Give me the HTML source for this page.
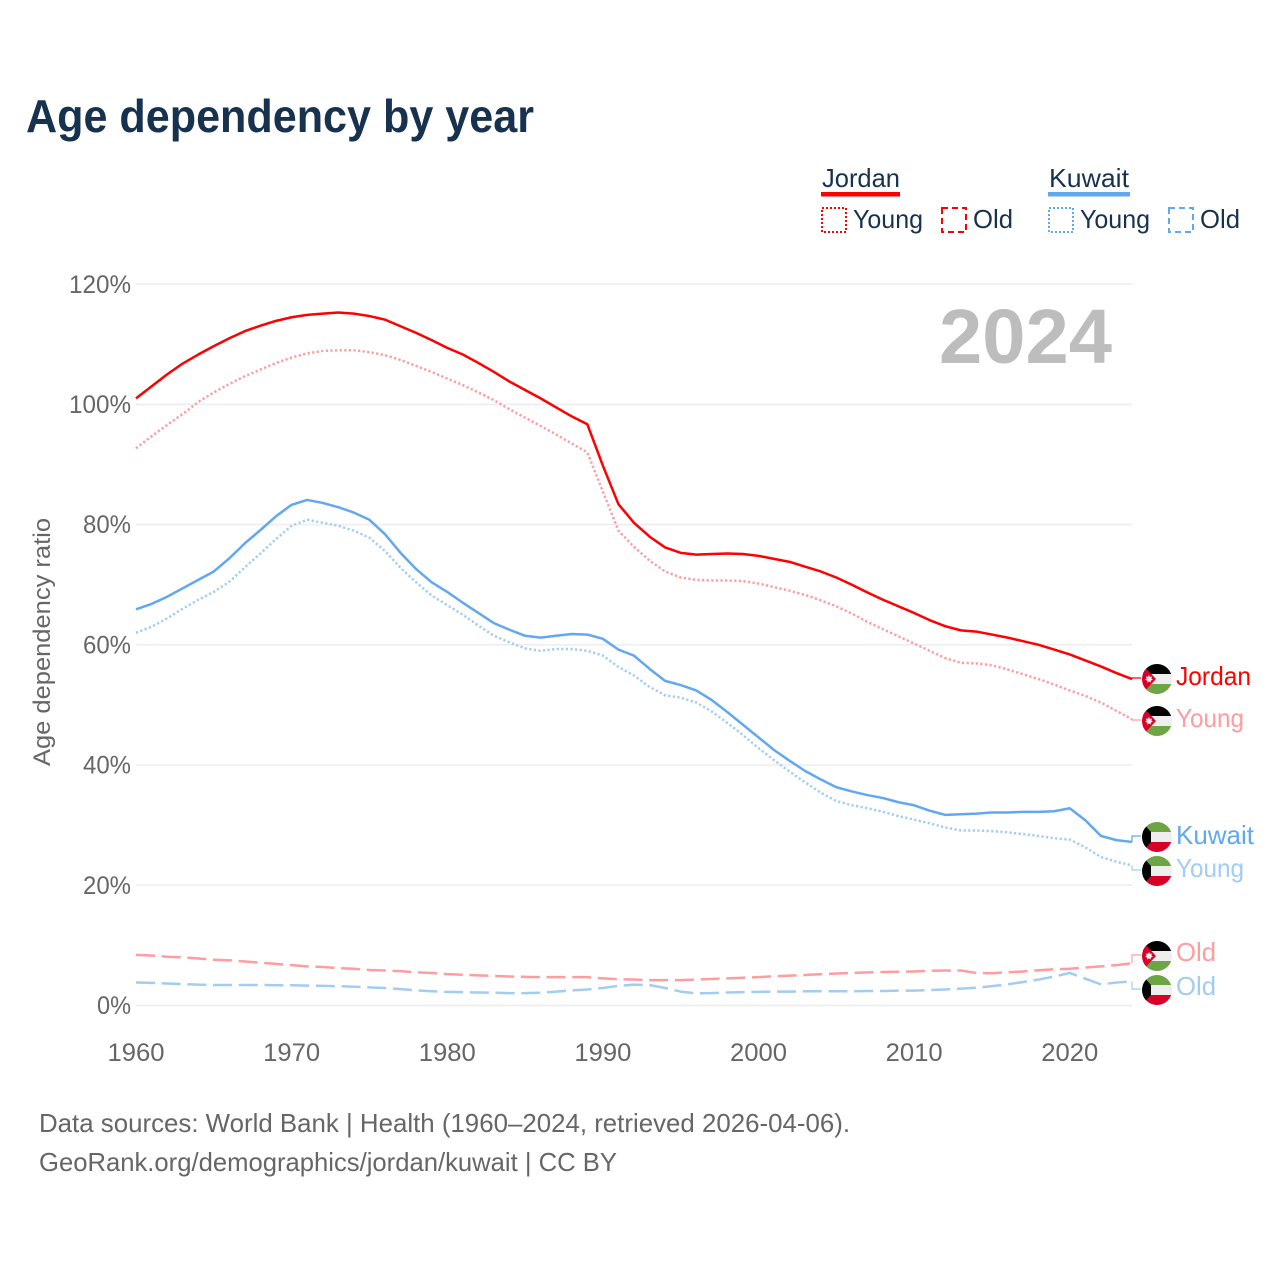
<!DOCTYPE html>
<html lang="en"><head><meta charset="utf-8"><title>Age dependency by year</title>
<style>
html,body{margin:0;padding:0;background:#fff;width:1280px;height:1280px;overflow:hidden}
svg{display:block;font-family:"Liberation Sans",sans-serif}
</style></head>
<body>
<svg id="chart" width="1280" height="1280" viewBox="0 0 1280 1280" xmlns="http://www.w3.org/2000/svg">
<defs>
<clipPath id="flag-clip"><circle cx="0" cy="0" r="15"/></clipPath>
</defs>
<text x="26" y="132" font-size="46" font-weight="700" fill="#17324f" textLength="508" lengthAdjust="spacingAndGlyphs">Age dependency by year</text>

<g font-size="26" fill="#17324f">
<text x="822" y="187" textLength="78" lengthAdjust="spacingAndGlyphs">Jordan</text>
<rect x="821" y="192" width="79" height="4.5" fill="#ff0000"/>
<rect x="822" y="208" width="24" height="24" fill="none" stroke="#ff0000" stroke-width="2" stroke-dasharray="2 2"/>
<text x="853" y="228" textLength="70" lengthAdjust="spacingAndGlyphs">Young</text>
<rect x="942" y="208" width="24" height="24" fill="none" stroke="#ff0000" stroke-width="2" stroke-dasharray="6 4"/>
<text x="973" y="228" textLength="40" lengthAdjust="spacingAndGlyphs">Old</text>
<text x="1049" y="187" textLength="80" lengthAdjust="spacingAndGlyphs">Kuwait</text>
<rect x="1048" y="192" width="82" height="4.5" fill="#62a8f0"/>
<rect x="1049" y="208" width="24" height="24" fill="none" stroke="#62a8f0" stroke-width="2" stroke-dasharray="2 2"/>
<text x="1080" y="228" textLength="70" lengthAdjust="spacingAndGlyphs">Young</text>
<rect x="1169" y="208" width="24" height="24" fill="none" stroke="#62a8f0" stroke-width="2" stroke-dasharray="6 4"/>
<text x="1200" y="228" textLength="40" lengthAdjust="spacingAndGlyphs">Old</text>
</g>

<text transform="translate(50,642) rotate(-90)" text-anchor="middle" font-size="24" fill="#666" textLength="248" lengthAdjust="spacingAndGlyphs">Age dependency ratio</text>
<g id="grid"></g>
<g id="yticks"></g>
<g id="xticks"></g>
<text x="939" y="363" font-size="77" font-weight="700" fill="#bdbdbd" textLength="173" lengthAdjust="spacingAndGlyphs">2024</text>
<g id="series"></g>
<g id="labels"></g>

<text x="39" y="1132" font-size="26" fill="#666" textLength="811" lengthAdjust="spacingAndGlyphs">Data sources: World Bank | Health (1960–2024, retrieved 2026-04-06).</text>
<text x="39" y="1171" font-size="26" fill="#666" textLength="578" lengthAdjust="spacingAndGlyphs">GeoRank.org/demographics/jordan/kuwait | CC BY</text>
</svg>
<script>
const firstYear = 1960;
const lastYear = 2024;
const xTickYears = [1960, 1970, 1980, 1990, 2000, 2010, 2020];
const yTickValues = [0, 20, 40, 60, 80, 100, 120];
const jordanTotal = [
101.0,103.0,105.0,106.8,108.3,109.7,111.0,112.2,113.1,113.9,
114.5,114.9,115.1,115.3,115.1,114.7,114.1,113.0,111.9,110.7,
109.4,108.3,106.9,105.4,103.8,102.4,101.0,99.5,98.0,96.7,
89.8,83.4,80.3,78.0,76.2,75.3,75.0,75.1,75.2,75.1,
74.8,74.3,73.8,73.0,72.2,71.2,70.0,68.7,67.5,66.4,
65.3,64.1,63.1,62.4,62.2,61.7,61.2,60.6,60.0,59.2,
58.4,57.4,56.4,55.3,54.3];
const jordanYoung = [
92.7,94.7,96.6,98.4,100.4,102.0,103.4,104.7,105.8,106.9,
107.8,108.5,108.9,109.0,109.0,108.7,108.2,107.4,106.4,105.4,
104.3,103.2,102.0,100.7,99.2,97.8,96.4,95.0,93.5,92.0,
85.5,79.0,76.3,74.0,72.2,71.2,70.8,70.7,70.7,70.6,
70.2,69.6,69.0,68.3,67.4,66.4,65.2,63.8,62.6,61.4,
60.2,59.0,57.8,57.0,56.9,56.6,55.9,55.1,54.3,53.4,
52.4,51.5,50.4,49.0,47.6];
const jordanOld = [
8.4,8.3,8.1,8.0,7.8,7.6,7.5,7.3,7.1,6.9,
6.7,6.5,6.4,6.2,6.1,5.9,5.8,5.7,5.5,5.4,
5.2,5.1,5.0,4.9,4.8,4.75,4.7,4.7,4.7,4.7,
4.5,4.35,4.3,4.2,4.2,4.2,4.3,4.4,4.5,4.6,
4.7,4.85,4.95,5.05,5.2,5.3,5.4,5.5,5.55,5.6,
5.65,5.75,5.8,5.8,5.4,5.35,5.5,5.65,5.85,6.0,
6.1,6.3,6.5,6.7,7.0];
const kuwaitTotal = [
65.9,66.8,68.0,69.4,70.8,72.2,74.4,76.9,79.1,81.4,
83.3,84.1,83.6,82.9,82.0,80.8,78.4,75.3,72.6,70.4,
68.8,67.0,65.3,63.6,62.5,61.5,61.2,61.5,61.8,61.7,
61.0,59.2,58.2,56.0,54.0,53.3,52.4,50.8,48.8,46.7,
44.6,42.5,40.7,39.0,37.6,36.3,35.6,35.0,34.5,33.8,
33.3,32.4,31.7,31.8,31.9,32.1,32.1,32.2,32.2,32.3,
32.8,30.8,28.2,27.5,27.2];
const kuwaitYoung = [
62.0,63.0,64.4,66.0,67.5,68.8,70.5,72.9,75.2,77.6,
79.8,80.8,80.3,79.8,79.0,77.8,75.6,72.8,70.4,68.2,
66.6,65.0,63.2,61.5,60.4,59.4,59.0,59.3,59.3,59.0,
58.2,56.3,54.9,53.0,51.6,51.2,50.4,48.9,47.0,45.0,
42.8,40.8,38.9,37.1,35.4,34.0,33.3,32.8,32.2,31.5,
30.9,30.3,29.6,29.1,29.1,29.0,28.8,28.5,28.2,27.8,
27.6,26.3,24.7,23.9,23.3];
const kuwaitOld = [
3.8,3.75,3.65,3.55,3.45,3.4,3.4,3.4,3.4,3.35,
3.35,3.3,3.25,3.2,3.1,3.0,2.9,2.7,2.5,2.35,
2.25,2.2,2.15,2.1,2.05,2.05,2.1,2.3,2.5,2.65,
2.9,3.25,3.45,3.4,2.9,2.3,2.0,2.05,2.15,2.2,
2.25,2.3,2.3,2.35,2.35,2.35,2.35,2.4,2.4,2.45,
2.45,2.55,2.65,2.8,2.95,3.2,3.5,3.9,4.3,4.8,
5.4,4.45,3.5,3.8,4.0];
const seriesLabels = ["Jordan", "Young", "Old", "Kuwait", "Young", "Old"];

const NS = "http://www.w3.org/2000/svg";
const plotLeft = 136, plotRight = 1132, y0Pixel = 1005.4, pixelsPerPercent = 6.01;
function xScale(year) { return plotLeft + (year - firstYear) * (plotRight - plotLeft) / (lastYear - firstYear); }
function yScale(v) { return y0Pixel - v * pixelsPerPercent; }
function make(tag, parent, attrs) {
  const el = document.createElementNS(NS, tag);
  for (const k in attrs) el.setAttribute(k, attrs[k]);
  parent.appendChild(el);
  return el;
}
const grid = document.getElementById("grid");
const yticks = document.getElementById("yticks");
const xticks = document.getElementById("xticks");
yTickValues.forEach(function (v) {
  const line = make("line", grid, {x1: plotLeft, x2: plotRight, y1: yScale(v), y2: yScale(v), stroke: "#eeeeee", "stroke-width": 1.6});
  
  
  const t = make("text", yticks, {x: 131, y: yScale(v) + 8.6, "text-anchor": "end", "font-size": 25, fill: "#666", textLength: (String(v).length * 14 + 20), lengthAdjust: "spacingAndGlyphs"});
  
  
  t.textContent = v + "%";
});
xTickYears.forEach(function (yr) {
  const t = make("text", xticks, {x: xScale(yr), y: 1061, "text-anchor": "middle", "font-size": 25, fill: "#666", textLength: 57, lengthAdjust: "spacingAndGlyphs"});
  
  
  t.textContent = yr;
});
function linePath(values) {
  return values.map(function (v, i) { return (i ? "L" : "M") + xScale(firstYear + i).toFixed(2) + " " + yScale(v).toFixed(2); }).join("");
}
const seriesGroup = document.getElementById("series");
function drawSeries(values, color, dash, name) {
  const p = make("path", seriesGroup, {d: linePath(values), fill: "none", stroke: color, "stroke-width": 2.5, "stroke-linejoin": "round"});
  if (dash) p.setAttribute("stroke-dasharray", dash);
  
  
}
const RED = "#ff0000", BLUE = "#62a8f0", LRED = "#ff9c9f", LBLUE = "#a3ccf3";
drawSeries(jordanOld, LRED, "19 6.7", "jordan-old-line");
drawSeries(kuwaitOld, LBLUE, "19 6.7", "kuwait-old-line");
drawSeries(jordanYoung, LRED, "2.2 2.4", "jordan-young-line");
drawSeries(kuwaitYoung, LBLUE, "2.2 2.4", "kuwait-young-line");
drawSeries(jordanTotal, RED, "", "jordan-total-line");
drawSeries(kuwaitTotal, BLUE, "", "kuwait-total-line");

function star(cx, cy, r) {
  let s = "";
  for (let i = 0; i < 14; i++) {
    const a = -Math.PI / 2 + i * Math.PI / 7, rr = i % 2 ? r * 0.6 : r;
    s += (cx + rr * Math.cos(a)).toFixed(2) + "," + (cy + rr * Math.sin(a)).toFixed(2) + " ";
  }
  return s;
}
function drawFlag(parent, country, cy) {
  const g = make("g", parent, {transform: "translate(1157," + cy + ")", "clip-path": "url(#flag-clip)"});
  
  
  if (country === "jordan") {
    make("rect", g, {x: -15, y: -15, width: 30, height: 10, fill: "#000"});
    make("rect", g, {x: -15, y: -5, width: 30, height: 10, fill: "#eeeeee"});
    make("rect", g, {x: -15, y: 5, width: 30, height: 10, fill: "#6da544"});
    make("polygon", g, {points: "-15,-15 -1,0 -15,15", fill: "#d80027"});
    make("polygon", g, {points: star(-8, 0, 4), fill: "#eeeeee"});
  } else {
    make("rect", g, {x: -15, y: -15, width: 30, height: 10, fill: "#6da544"});
    make("rect", g, {x: -15, y: -5, width: 30, height: 10, fill: "#eeeeee"});
    make("rect", g, {x: -15, y: 5, width: 30, height: 10, fill: "#d80027"});
    make("polygon", g, {points: "-15,-15 -6,-5 -6,5 -15,15", fill: "#000"});
  }
}
const labelGroup = document.getElementById("labels");
function drawEndLabel(idx, values, country, color, cy, baseline, width, name) {
  const endY = yScale(values[values.length - 1]);
  const lead = make("path", labelGroup, {d: "M" + plotRight + " " + endY.toFixed(2) + "L" + plotRight + " " + (cy - 1) + "L1141 " + (cy - 1), fill: "none", stroke: color, "stroke-width": 1.2});
  
  
  drawFlag(labelGroup, country, cy);
  const t = make("text", labelGroup, {x: 1176, y: baseline, "font-size": 26, fill: color, textLength: width, lengthAdjust: "spacingAndGlyphs"});
  
  
  t.textContent = seriesLabels[idx];
}
drawEndLabel(0, jordanTotal, "jordan", RED, 679, 685, 75, "jordan-total");
drawEndLabel(1, jordanYoung, "jordan", LRED, 721, 727, 68, "jordan-young");
drawEndLabel(2, jordanOld, "jordan", LRED, 956, 961, 40, "jordan-old");
drawEndLabel(3, kuwaitTotal, "kuwait", BLUE, 837, 844, 78, "kuwait-total");
drawEndLabel(4, kuwaitYoung, "kuwait", LBLUE, 871, 877, 68, "kuwait-young");
drawEndLabel(5, kuwaitOld, "kuwait", LBLUE, 990, 995, 40, "kuwait-old");
</script>
</body></html>
